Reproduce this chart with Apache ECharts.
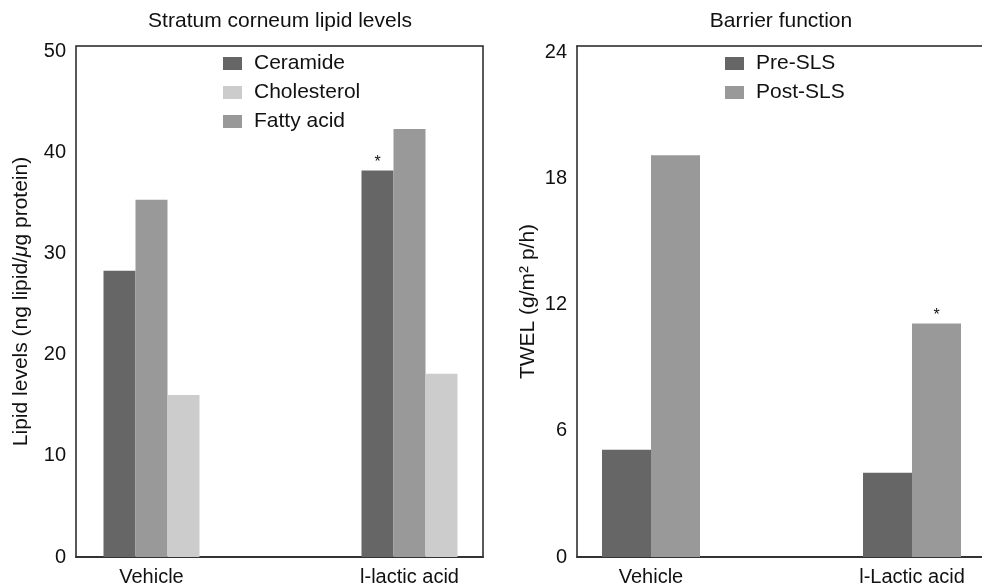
<!DOCTYPE html>
<html>
<head>
<meta charset="utf-8">
<title>Lipid levels and barrier function</title>
<script src="https://cdn.jsdelivr.net/npm/echarts@6/dist/echarts.min.js"></script>
<style>
  html, body { margin: 0; padding: 0; background: #fff; }
  #chart { width: 982px; height: 588px; }
</style>
</head>
<body>
<div id="chart"></div>
<script>
// left panel: stratum corneum lipids
const lipidGroups = ["Vehicle", "l-lactic acid"];
const ceramide = [28.3, 38.2];
const fattyAcid = [35.3, 42.3];
const cholesterol = [16.0, 18.1];
const ceramideMarks = ["", "*"];
const lipidLegend = ["Ceramide", "Cholesterol", "Fatty acid"];

// right panel: TEWL before / after SLS
const barrierGroups = ["Vehicle", "l-Lactic acid"];
const preSLS = [5.1, 4.0];
const postSLS = [19.1, 11.1];
const postMarks = ["", "*"];
const barrierLegend = ["Pre-SLS", "Post-SLS"];

const font = "Liberation Sans, Arial, sans-serif";
const ink = "#111";
const dark = "#666666", mid = "#999999", light = "#cccccc";
const frameLine = { color: "#222", width: 1.5 };

const chart = echarts.init(document.getElementById("chart"));

const hiddenY = (grid, max) => ({
  type: "value", gridIndex: grid, min: 0, max: max, show: false, splitLine: { show: false }
});

const frameY = (grid, max, interval, name, gap, showLine) => ({
  type: "value",
  gridIndex: grid,
  min: 0,
  max: max,
  interval: interval,
  name: name,
  nameLocation: "middle",
  nameGap: gap,
  nameTextStyle: {
    fontFamily: font, fontSize: 21, color: ink,
    rich: { i: { fontFamily: font, fontSize: 21, fontStyle: "italic", color: ink } }
  },
  axisLine: { show: showLine, lineStyle: frameLine },
  axisTick: { show: false },
  splitLine: { show: false },
  axisLabel: { showMaxLabel: false, fontFamily: font, fontSize: 20, color: ink, margin: 10 }
});

// category axis whose ends are the two group centres
const groupX = (grid, cats) => ({
  type: "category", gridIndex: grid, data: cats, boundaryGap: false,
  axisLine: { show: false }, axisTick: { show: false },
  axisLabel: { fontFamily: font, fontSize: 20, color: ink, margin: 10 }
});

const starLabel = (marks) => ({
  show: true, position: "top", distance: 0,
  fontFamily: font, fontSize: 16, color: ink,
  formatter: (p) => marks[p.dataIndex]
});

const legendBase = {
  orient: "vertical", top: 53, padding: 0, icon: "rect",
  itemWidth: 19, itemHeight: 13, itemGap: 8,
  textStyle: { fontFamily: font, fontSize: 21, color: ink, lineHeight: 20, padding: [0, 0, 0, 7] }
};

const bar = (name, xi, yi, width, color, data, label) => ({
  name, type: "bar", xAxisIndex: xi, yAxisIndex: yi, barWidth: width, barGap: "0%",
  clip: false, itemStyle: { color }, label: label || { show: false }, data
});

const option = {
  animation: false,
  title: [
    { text: "Stratum corneum lipid levels", left: 280, top: 11, padding: 0, textAlign: "center",
      textStyle: { fontFamily: font, fontSize: 21, fontWeight: "normal", color: ink } },
    { text: "Barrier function", left: 781, top: 11, padding: 0, textAlign: "center",
      textStyle: { fontFamily: font, fontSize: 21, fontWeight: "normal", color: ink } }
  ],
  legend: [
    Object.assign({ data: lipidLegend, left: 223 }, legendBase),
    Object.assign({ data: barrierLegend, left: 725 }, legendBase)
  ],
  grid: [
    { left: 76, top: 46, width: 407, height: 511, show: true, borderColor: "#222", borderWidth: 1.5 },
    { left: 151.5, top: 46, width: 258, height: 511 },
    { left: 577, top: 46, right: 0, height: 511 },
    { left: 651, top: 46, width: 261, height: 511 }
  ],
  xAxis: [
    { type: "category", gridIndex: 0, data: [], axisLine: { lineStyle: { color: "#333", width: 2 } },
      axisTick: { show: false }, axisLabel: { show: false } },
    groupX(1, lipidGroups),
    { type: "category", gridIndex: 2, data: [], axisLine: { lineStyle: { color: "#333", width: 2 } },
      axisTick: { show: false }, axisLabel: { show: false } },
    groupX(3, barrierGroups),
    { type: "category", gridIndex: 2, position: "top", data: [], axisLine: { lineStyle: frameLine },
      axisTick: { show: false }, axisLabel: { show: false } }
  ],
  yAxis: [
    frameY(0, 50.5, 10, "Lipid levels (ng lipid/{i|μ}g protein)", 44, false),
    hiddenY(1, 50.5),
    frameY(2, 24.29, 6, "TWEL (g/m² p/h)", 38, true),
    hiddenY(3, 24.29)
  ],
  series: [
    bar("Ceramide", 1, 1, 32, dark, ceramide, starLabel(ceramideMarks)),
    bar("Fatty acid", 1, 1, 32, mid, fattyAcid),
    bar("Cholesterol", 1, 1, 32, light, cholesterol),
    bar("Pre-SLS", 3, 3, 49, dark, preSLS),
    bar("Post-SLS", 3, 3, 49, mid, postSLS, starLabel(postMarks))
  ]
};

chart.setOption(option);
</script>
</body>
</html>
